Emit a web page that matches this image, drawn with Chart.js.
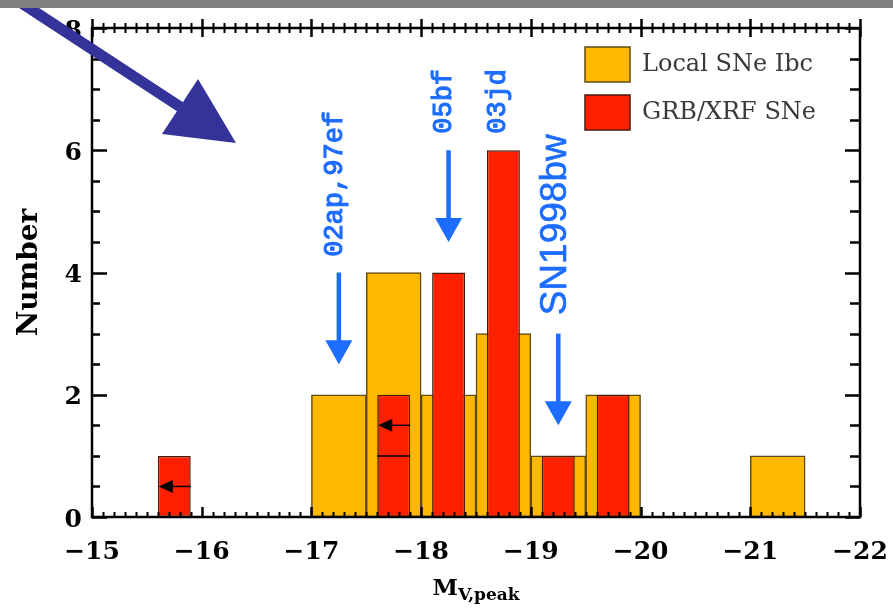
<!DOCTYPE html>
<html><head><meta charset="utf-8">
<script src="https://cdn.jsdelivr.net/npm/chart.js@4/dist/chart.umd.min.js"></script>
<style>html,body{margin:0;padding:0;background:#fff;}#wrap{width:893px;height:608px;position:relative;}</style>
</head><body><div id="wrap"><canvas id="c" width="893" height="608"></canvas></div>
<script>
// ---- data ----
const seriesNames = ['Local SNe Ibc', 'GRB/XRF SNe'];
const localCenters = [-17.25, -17.75, -18.25, -18.75, -19.25, -19.75, -21.25];
const localCounts  = [2, 4, 2, 3, 1, 2, 1];
const grbCenters   = [-15.75, -17.75, -18.25, -18.75, -19.25, -19.75];
const grbCounts    = [1, 2, 4, 6, 1, 2];
const xTickValues  = [-15, -16, -17, -18, -19, -20, -21, -22];
const yTickValues  = [0, 2, 4, 6, 8];
// upper-limit markers inside GRB bars
const limitArrowX = [-15.75, -17.75];
const limitArrowY = [0.5, 1.5];
const dividerX = [-17.75];
const dividerY = [1];
// supernova annotations
const snLabels   = ['02ap,97ef', '05bf', '03jd', 'SN1998bw'];
const snLabelX   = [-17.21, -18.21, -18.70, -19.23];
const snLabelY   = [5.45, 6.8, 6.8, 4.78];
const snArrowX   = [-17.25, -18.25, null, -19.25];
const snArrowTop = [4.0, 6.0, null, 3.0];
const snArrowTip = [2.5, 4.5, null, 1.5];

const YELLOW = '#ffb800', YELLOW_EDGE = '#5e4a14';
const RED = '#ff2000', RED_EDGE = '#4a1a0a';
const BLUE = '#1c6cff';

function arrowHeadDown(ctx, x, tipY, w, h) {
  ctx.beginPath(); ctx.moveTo(x, tipY); ctx.lineTo(x - w/2, tipY - h); ctx.lineTo(x + w/2, tipY - h); ctx.closePath(); ctx.fill();
}

const decor = {
  id: 'decor',
  afterDraw(chart) {
    const ctx = chart.ctx;
    const {left, right, top, bottom} = chart.chartArea;
    const xs = chart.scales.x, ys = chart.scales.y;
    ctx.save();
    // limit arrows and divider lines in GRB bars
    const meta = chart.getDatasetMeta(1);
    ctx.strokeStyle = '#000'; ctx.fillStyle = '#000'; ctx.lineWidth = 1.5;
    limitArrowX.forEach((xv, i) => {
      const el = meta.data[grbCenters.indexOf(xv)];
      const xl = el.x - el.width/2, xr = el.x + el.width/2;
      const y = ys.getPixelForValue(limitArrowY[i]);
      ctx.beginPath(); ctx.moveTo(xr, y); ctx.lineTo(xl + 12, y); ctx.stroke();
      ctx.beginPath(); ctx.moveTo(xl + 1, y); ctx.lineTo(xl + 15, y - 6.5); ctx.lineTo(xl + 15, y + 6.5); ctx.closePath(); ctx.fill();
    });
    dividerX.forEach((xv, i) => {
      const el = meta.data[grbCenters.indexOf(xv)];
      const y = ys.getPixelForValue(dividerY[i]);
      ctx.beginPath(); ctx.moveTo(el.x - el.width/2, y); ctx.lineTo(el.x + el.width/2, y); ctx.stroke();
    });
    // frame
    ctx.strokeStyle = '#000'; ctx.lineWidth = 2.5;
    ctx.strokeRect(left, top, right - left, bottom - top);
    // x ticks
    for (let k = 0; k <= 70; k++) {
      const v = -15 - k / 10;
      const px = Math.round(xs.getPixelForValue(v)) + 0.5;
      const major = k % 10 === 0;
      ctx.lineWidth = major ? 2.5 : 2;
      ctx.beginPath();
      ctx.moveTo(px, bottom); ctx.lineTo(px, bottom - (major ? 10 : 5));
      ctx.moveTo(px, top - (major ? 9 : 5)); ctx.lineTo(px, top + (major ? 9 : 5));
      ctx.stroke();
    }
    // y ticks
    for (let k = 0; k <= 16; k++) {
      const v = k / 2;
      const py = Math.round(ys.getPixelForValue(v)) + 0.5;
      const major = k % 4 === 0;
      ctx.lineWidth = 2.5;
      ctx.beginPath();
      ctx.moveTo(left, py); ctx.lineTo(left + (major ? 15 : 8), py);
      ctx.moveTo(right, py); ctx.lineTo(right - (major ? 15 : 10), py);
      ctx.stroke();
    }
    // SN annotations
    ctx.fillStyle = BLUE; ctx.strokeStyle = BLUE;
    snLabels.forEach((t, i) => {
      ctx.save();
      ctx.translate(xs.getPixelForValue(snLabelX[i]), ys.getPixelForValue(snLabelY[i]));
      ctx.rotate(-Math.PI / 2);
      ctx.font = i === 3 ? '37px "Liberation Sans"' : '27px "Liberation Mono"';
      ctx.textAlign = 'center'; ctx.textBaseline = 'middle';
      ctx.lineWidth = i === 3 ? 0.6 : 1.1;
      ctx.fillText(t, 0, 0);
      ctx.strokeText(t, 0, 0);
      ctx.restore();
      if (snArrowX[i] !== null) {
        const ax = xs.getPixelForValue(snArrowX[i]);
        const y0 = ys.getPixelForValue(snArrowTop[i]);
        const y1 = ys.getPixelForValue(snArrowTip[i]);
        ctx.lineWidth = 4.5;
        ctx.beginPath(); ctx.moveTo(ax, y0); ctx.lineTo(ax, y1 - 18); ctx.stroke();
        arrowHeadDown(ctx, ax, y1, 27, 24);
      }
    });
    // legend
    const lx = right - 275;
    [[YELLOW, YELLOW_EDGE], [RED, RED_EDGE]].forEach((c, i) => {
      const by = top + 19 + i * 48;
      ctx.fillStyle = c[0]; ctx.fillRect(lx, by, 45, 35);
      ctx.strokeStyle = c[1]; ctx.lineWidth = 1.5; ctx.strokeRect(lx, by, 45, 35);
      ctx.fillStyle = '#3a3a3a'; ctx.font = '24px "DejaVu Serif"';
      ctx.textAlign = 'left'; ctx.textBaseline = 'middle';
      ctx.fillText(seriesNames[i], lx + 57, by + 18);
    });
    // x axis title M_V,peak
    ctx.fillStyle = '#000'; ctx.textBaseline = 'alphabetic'; ctx.textAlign = 'left';
    const f1 = 'bold 23px "DejaVu Serif"', f2 = 'bold 17px "DejaVu Serif"';
    ctx.font = f1; const wM = ctx.measureText('M').width;
    ctx.font = f2; const wS = ctx.measureText('V,peak').width;
    const tx = (left + right) / 2 - (wM + wS) / 2;
    ctx.font = f1; ctx.fillText('M', tx, 595);
    ctx.font = f2; ctx.fillText('V,peak', tx + wM, 600);
    // big navy arrow
    ctx.fillStyle = '#333399'; ctx.strokeStyle = '#333399';
    ctx.lineWidth = 11; ctx.lineCap = 'butt';
    ctx.beginPath(); ctx.moveTo(-29, -30); ctx.lineTo(185, 110); ctx.stroke();
    ctx.beginPath(); ctx.moveTo(236, 143); ctx.lineTo(198, 79); ctx.lineTo(162, 134); ctx.closePath(); ctx.fill();
    // gray top strip
    ctx.fillStyle = '#808080'; ctx.fillRect(0, 0, chart.width, 8);
    ctx.restore();
  }
};

const minus = v => String(v).replace('-', '\u2212');

new Chart(document.getElementById('c'), {
  type: 'bar',
  data: {
    datasets: [
      { label: seriesNames[0], data: localCenters.map((x, i) => ({x, y: localCounts[i]})),
        backgroundColor: YELLOW, borderColor: YELLOW_EDGE, borderWidth: 1.5, borderSkipped: false,
        grouped: false, barPercentage: 1, categoryPercentage: 1, order: 2 },
      { label: seriesNames[1], data: grbCenters.map((x, i) => ({x, y: grbCounts[i]})),
        backgroundColor: RED, borderColor: RED_EDGE, borderWidth: 1.5, borderSkipped: false,
        grouped: false, barPercentage: 0.6, categoryPercentage: 1, order: 1 }
    ]
  },
  options: {
    responsive: false, animation: false,
    layout: { padding: { left: 0, right: 33, top: 28, bottom: 0 } },
    plugins: { legend: { display: false }, tooltip: { enabled: false } },
    scales: {
      x: { type: 'linear', min: -22, max: -15, reverse: true, offset: false,
        afterBuildTicks: s => { s.ticks = xTickValues.map(v => ({value: v})); },
        afterFit: s => { s.height = 91; s.paddingLeft = 0; s.paddingRight = 0; },
        grid: { display: false, drawTicks: false }, border: { display: false },
        ticks: { padding: 20, autoSkip: false, maxRotation: 0, color: '#000',
          font: { family: 'DejaVu Serif', size: 25, weight: 'bold' }, callback: v => minus(v) } },
      y: { type: 'linear', min: 0, max: 8,
        afterBuildTicks: s => { s.ticks = yTickValues.map(v => ({value: v})); },
        afterFit: s => { s.width = 92; s.paddingTop = 0; s.paddingBottom = 0; },
        grid: { display: false, drawTicks: false }, border: { display: false },
        ticks: { padding: 10, labelOffset: 3, color: '#000', font: { family: 'DejaVu Serif', size: 25, weight: 'bold' } },
        title: { display: true, text: 'Number', color: '#000', padding: { top: 13, bottom: 0 },
          font: { family: 'DejaVu Serif', size: 28, weight: 'bold' } } }
    }
  },
  plugins: [decor]
});
</script></body></html>
